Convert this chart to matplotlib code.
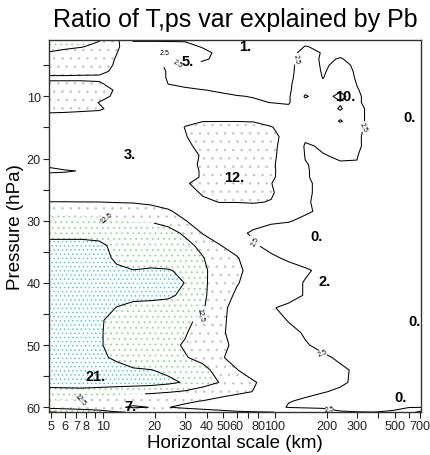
import numpy as np
import matplotlib
matplotlib.use('Agg')
import matplotlib.pyplot as plt
from matplotlib.ticker import FixedLocator, FixedFormatter, NullFormatter

plt.rcParams['font.family'] = ['Liberation Sans', 'DejaVu Sans']
plt.rcParams['hatch.linewidth'] = 0.5

# horizontal scale (km) of grid columns
scale_km = [4.8, 6, 7.5, 9.5, 12, 15, 19, 24, 30, 38, 48, 60, 75, 95, 120,
            150, 190, 240, 300, 380, 480, 600, 711]
# pressure (hPa) of grid rows
pressure_hpa = [1, 2, 3, 4, 5, 6, 7, 8, 9, 10, 11, 12, 13, 14, 15, 16.5, 18,
                19.5, 21, 22, 23, 24, 25.5, 27, 28.5, 30, 32, 34, 36, 38, 40,
                42, 44, 46, 48, 50, 52, 54, 56, 57.5, 59, 60, 60.8]
# ratio of T,ps variance explained by Pb (%)
ratio = [
    [15, 14, 13.5, 12.7, 8.3, 2.2, 2.2, 2.2, 2.2, 1.5, 1.0, 1.0, 1.0, 1.0, 1.2, 1.5, 1.2, 1.0, 0.6, 0.5, 0.5, 0.5, 0.5],
    [13.8, 13.3, 12.7, 11.5, 8.2, 4.0, 4.0, 3.8, 3.5, 2.2, 1.5, 1.2, 1.0, 1.0, 1.2, 2.6, 2.0, 1.5, 1.0, 0.5, 0.5, 0.5, 0.5],
    [12.3, 11.5, 11.0, 10.5, 7.6, 4.5, 3.5, 2.2, 4.5, 3.5, 1.5, 1.2, 1.0, 1.0, 1.5, 3.5, 2.3, 1.8, 0.8, 0.5, 0.5, 0.5, 0.5],
    [11.0, 10.5, 10.0, 9.5, 7.2, 5.0, 4.0, 3.5, 5.0, 3.0, 1.5, 1.2, 1.0, 1.0, 1.5, 4.0, 2.0, 2.7, 1.5, 0.6, 0.5, 0.5, 0.5],
    [10.5, 10.0, 9.5, 9.0, 7.0, 5.0, 3.5, 2.0, 1.8, 1.5, 1.5, 1.2, 1.0, 1.0, 1.5, 4.5, 2.0, 3.5, 1.8, 0.6, 0.5, 0.5, 0.5],
    [8.5, 8.5, 8.3, 8.2, 6.8, 5.5, 4.0, 2.2, 1.8, 1.6, 1.5, 1.3, 1.2, 1.2, 1.6, 4.5, 2.2, 4.0, 2.0, 0.6, 0.5, 0.5, 0.5],
    [7.0, 7.0, 7.0, 7.0, 6.3, 5.5, 4.0, 2.2, 1.8, 1.6, 1.5, 1.3, 1.2, 1.2, 1.6, 5.0, 2.4, 4.5, 2.1, 0.6, 0.5, 0.5, 0.5],
    [8.0, 8.0, 8.0, 7.8, 6.5, 5.5, 4.5, 2.45, 2.0, 1.8, 1.7, 1.5, 1.4, 1.4, 1.8, 5.5, 3.0, 5.0, 2.4, 0.7, 0.5, 0.5, 0.5],
    [8.5, 8.5, 8.5, 8.5, 7.2, 5.5, 4.5, 3.5, 2.9, 2.55, 2.3, 1.9, 1.6, 1.5, 1.9, 6.0, 4.5, 6.5, 2.7, 0.8, 0.5, 0.5, 0.5],
    [9.0, 9.0, 9.0, 8.5, 6.8, 5.5, 5.0, 4.0, 3.5, 3.0, 2.8, 2.6, 2.4, 2.0, 2.0, 8.0, 5.0, 9.5, 3.0, 0.8, 0.5, 0.5, 0.5],
    [9.0, 9.0, 8.8, 7.4, 6.5, 5.5, 5.0, 4.5, 4.0, 3.5, 3.2, 3.0, 2.8, 2.45, 2.2, 6.0, 5.5, 7.0, 3.0, 0.8, 0.5, 0.5, 0.5],
    [8.5, 8.5, 8.3, 7.9, 6.3, 5.3, 5.0, 5.5, 5.5, 5.5, 5.5, 5.5, 5.0, 4.0, 3.2, 5.0, 5.0, 8.0, 3.5, 1.0, 0.5, 0.5, 0.5],
    [7.0, 6.8, 6.5, 6.5, 6.0, 5.0, 5.0, 6.0, 6.8, 7.0, 7.0, 7.0, 6.5, 5.0, 4.0, 4.0, 4.5, 6.0, 3.5, 1.0, 0.5, 0.5, 0.5],
    [5.5, 5.0, 4.5, 4.5, 4.5, 4.5, 5.0, 6.0, 7.0, 7.4, 7.4, 7.4, 7.3, 6.0, 4.5, 3.8, 4.0, 8.0, 3.5, 1.0, 0.5, 0.5, 0.5],
    [4.5, 4.2, 4.0, 4.0, 4.0, 4.0, 4.5, 6.0, 7.6, 9.0, 9.5, 9.5, 9.0, 7.8, 5.0, 3.5, 3.5, 5.0, 3.2, 1.0, 0.5, 0.5, 0.5],
    [3.5, 3.5, 3.5, 3.3, 3.3, 3.5, 4.0, 5.5, 7.2, 10.0, 11.0, 11.0, 10.5, 9.0, 5.5, 3.0, 3.0, 4.0, 3.0, 0.8, 0.5, 0.5, 0.5],
    [3.2, 3.1, 3.1, 3.0, 3.0, 3.1, 3.5, 5.0, 6.5, 9.0, 11.5, 12.0, 11.0, 8.5, 5.5, 2.2, 2.8, 3.5, 3.0, 0.8, 0.5, 0.5, 0.5],
    [3.2, 3.0, 3.0, 3.0, 3.0, 3.0, 3.5, 5.0, 6.5, 7.8, 11.5, 12.0, 11.5, 8.5, 5.0, 2.4, 2.4, 2.8, 2.6, 0.8, 0.5, 0.5, 0.5],
    [7.0, 5.0, 4.0, 3.5, 3.2, 3.2, 3.7, 5.0, 6.5, 8.0, 11.0, 12.0, 11.5, 8.2, 5.0, 2.6, 2.0, 2.3, 2.4, 0.8, 0.5, 0.5, 0.5],
    [8.2, 8.0, 7.2, 4.5, 3.5, 3.3, 3.8, 5.0, 6.5, 7.8, 10.5, 11.5, 11.0, 8.3, 5.0, 2.7, 1.8, 1.5, 1.3, 0.8, 0.5, 0.5, 0.5],
    [6.0, 5.5, 4.5, 3.8, 3.4, 3.3, 3.8, 5.0, 6.5, 7.8, 10.0, 11.0, 10.5, 8.2, 5.0, 2.7, 1.8, 1.3, 1.0, 0.7, 0.5, 0.5, 0.5],
    [3.8, 3.6, 3.5, 3.4, 3.4, 3.5, 4.0, 5.2, 7.2, 8.5, 10.0, 10.5, 10.0, 7.6, 5.0, 2.8, 2.0, 1.3, 0.9, 0.6, 0.5, 0.5, 0.5],
    [4.5, 4.3, 4.2, 4.2, 4.3, 4.5, 5.0, 5.8, 6.5, 7.8, 9.0, 9.0, 8.8, 8.0, 5.0, 2.8, 2.0, 1.3, 0.8, 0.6, 0.5, 0.5, 0.5],
    [7.6, 7.6, 7.55, 7.52, 7.3, 7.2, 6.8, 6.5, 6.5, 7.0, 7.6, 7.6, 7.8, 7.3, 4.5, 2.7, 2.0, 1.3, 0.8, 0.6, 0.5, 0.5, 0.5],
    [11.8, 11.8, 11.7, 11.6, 10.8, 10.0, 9.0, 7.8, 6.5, 5.8, 5.5, 5.5, 5.5, 5.0, 3.8, 2.7, 2.2, 1.5, 0.8, 0.6, 0.5, 0.5, 0.5],
    [13.2, 13.2, 13.2, 13.2, 12.8, 12.2, 12.2, 11.5, 7.6, 6.0, 5.0, 4.0, 3.0, 2.7, 2.6, 2.2, 1.5, 1.0, 0.7, 0.5, 0.5, 0.5, 0.5],
    [16.5, 16.5, 16.5, 16.3, 15.5, 15.0, 14.5, 13.5, 12.0, 7.2, 6.0, 2.8, 2.3, 2.0, 1.8, 1.5, 1.2, 1.0, 0.7, 0.5, 0.5, 0.5, 0.5],
    [18.5, 18.5, 18.5, 18.2, 16.5, 15.5, 15.0, 14.5, 13.5, 11.5, 7.6, 6.0, 2.7, 2.0, 1.8, 1.4, 1.1, 0.9, 0.7, 0.5, 0.5, 0.5, 0.5],
    [20.0, 20.5, 20.5, 19.5, 16.5, 15.5, 15.5, 15.0, 14.5, 12.7, 10.0, 7.8, 5.0, 2.8, 2.2, 1.8, 1.5, 1.2, 1.0, 0.8, 0.5, 0.5, 0.5],
    [21.0, 21.0, 21.0, 20.5, 18.5, 17.6, 18.0, 17.8, 16.5, 13.2, 10.5, 8.2, 6.2, 3.8, 3.2, 2.7, 2.1, 1.8, 1.4, 1.0, 0.7, 0.5, 0.5],
    [21.0, 21.5, 21.5, 21.0, 20.0, 19.5, 19.5, 19.0, 17.4, 13.0, 11.0, 7.8, 5.5, 3.5, 3.0, 2.4, 2.1, 1.8, 1.5, 1.2, 0.8, 0.5, 0.5],
    [21.0, 21.5, 21.5, 21.0, 20.0, 19.0, 19.0, 18.5, 16.0, 13.3, 9.5, 6.8, 5.5, 3.8, 3.0, 2.4, 2.0, 1.6, 1.3, 1.0, 0.7, 0.5, 0.5],
    [21.0, 21.0, 20.5, 20.0, 17.3, 16.0, 15.5, 15.0, 14.0, 13.0, 8.2, 6.5, 4.5, 2.6, 2.2, 1.8, 1.5, 1.2, 1.0, 0.8, 0.6, 0.5, 0.5],
    [20.5, 20.5, 20.0, 18.0, 16.0, 15.0, 14.5, 14.0, 13.3, 11.5, 8.3, 6.0, 4.0, 3.2, 2.4, 1.8, 1.5, 1.2, 1.0, 0.8, 0.6, 0.5, 0.5],
    [20.5, 20.5, 20.0, 18.0, 15.5, 14.5, 14.0, 13.5, 12.8, 10.5, 8.0, 6.3, 4.5, 3.5, 3.0, 2.3, 1.8, 1.4, 1.1, 0.9, 0.6, 0.5, 0.5],
    [20.5, 20.5, 20.0, 18.0, 15.5, 14.5, 13.8, 13.2, 12.2, 11.0, 8.5, 6.5, 5.0, 4.0, 3.2, 2.65, 2.0, 1.5, 1.2, 0.9, 0.6, 0.5, 0.5],
    [20.5, 20.5, 20.0, 18.5, 16.5, 15.0, 14.0, 13.5, 12.7, 11.5, 7.8, 6.5, 5.0, 4.2, 3.5, 3.0, 2.8, 2.2, 1.8, 1.2, 0.8, 0.6, 0.5],
    [20.5, 21.0, 21.0, 20.5, 19.5, 18.0, 17.6, 16.5, 15.0, 13.5, 11.0, 7.6, 6.0, 5.0, 4.0, 3.5, 3.0, 2.8, 2.2, 1.5, 1.0, 0.8, 0.6],
    [20.5, 21.0, 21.5, 21.0, 20.5, 20.0, 19.5, 18.5, 17.0, 14.5, 12.3, 10.0, 7.8, 6.0, 4.0, 3.5, 3.0, 2.8, 2.1, 1.5, 1.0, 0.8, 0.6],
    [15.0, 15.0, 15.0, 14.5, 14.0, 13.8, 13.5, 12.8, 12.0, 10.5, 9.0, 8.3, 7.4, 5.0, 3.8, 3.0, 2.6, 2.2, 1.8, 1.3, 0.8, 0.8, 0.6],
    [12.4, 12.2, 11.8, 11.0, 10.0, 9.0, 8.5, 8.2, 7.9, 7.4, 6.5, 5.5, 4.0, 3.2, 2.6, 2.2, 1.8, 1.6, 1.3, 1.0, 0.6, 0.8, 0.8],
    [11.0, 10.5, 10.0, 9.0, 8.0, 7.0, 7.6, 7.55, 7.0, 6.5, 6.0, 5.5, 5.0, 3.5, 2.3, 2.0, 1.8, 1.6, 1.5, 1.3, 1.5, 2.3, 2.45],
    [18.0, 17.0, 16.0, 15.0, 13.0, 12.0, 11.0, 10.0, 9.5, 9.0, 8.5, 8.0, 7.8, 7.6, 7.0, 6.0, 5.0, 2.8, 2.6, 2.55, 3.0, 6.0, 9.0],
]

plain_levels = [7.5, 17.5]
label_level_a = [2.5]
label_level_b = [12.5]
band_lo = [7.5, 12.5, 17.5]
band_hi = [12.5, 17.5, 40.0]

# local extremum labels
ext_text = ['1.', '5.', '10.', '0.', '3.', '12.', '0.', '2.', '0.', '21.', '7.', '0.']
ext_km = [67, 31, 255, 609, 14.4, 58, 175, 195, 650, 9.0, 14.5, 537]
ext_hpa = [1.9, 4.3, 10, 13.3, 19.3, 23, 32.5, 39.7, 46.1, 55, 59.8, 58.3]

xticks = [5, 6, 7, 8, 10, 20, 30, 40, 50, 60, 80, 100, 200, 300, 500, 700]
xminor = [9, 70, 400, 600]
yticks = [10, 20, 30, 40, 50, 60]
yminor = [5, 15, 25, 35, 45, 55]

fig = plt.figure(figsize=(4.30, 4.56), dpi=100)
ax = fig.add_axes([0.114, 0.0943, 0.866, 0.8164])
X, Y = np.meshgrid(scale_km, pressure_hpa)
Z = np.array(ratio)

band_color = ['#c0c0c0', '#86d486', '#3ccad6']
band_hatch = ['..', '...', '....']
for lo, hi, col, h in zip(band_lo, band_hi, band_color, band_hatch):
    with plt.rc_context({'hatch.color': col}):
        ax.contourf(X, Y, Z, levels=[lo, hi], colors='none', hatches=[h])

lw = 0.75
ax.contour(X, Y, Z, levels=plain_levels, colors='black', linewidths=lw)
cs_a = ax.contour(X, Y, Z, levels=label_level_a, colors='black', linewidths=lw)
cs_b = ax.contour(X, Y, Z, levels=label_level_b, colors='black', linewidths=lw)
lab_a = [(23, 3.0), (27, 4.8), (134, 4), (330, 15), (74, 33.4), (190, 51.3), (208, 60.5)]
lab_b = [(8.5, 29.6), (7.6, 58.7), (37, 45)]
ax.clabel(cs_a, manual=lab_a, fmt='%g', fontsize=5, inline=True, inline_spacing=1)
ax.clabel(cs_b, manual=lab_b, fmt='%g', fontsize=5, inline=True, inline_spacing=1)

for t, xk, yp in zip(ext_text, ext_km, ext_hpa):
    ax.text(xk, yp, t, ha='center', va='center', fontsize=10.5, fontweight='bold',
            clip_on=True)

ax.set_xscale('log')
ax.set_xlim(4.85, 711)
ax.set_ylim(60.76, 0.9)
ax.xaxis.set_major_locator(FixedLocator(xticks))
ax.xaxis.set_major_formatter(FixedFormatter([str(v) for v in xticks]))
ax.xaxis.set_minor_locator(FixedLocator(xminor))
ax.xaxis.set_minor_formatter(NullFormatter())
ax.set_yticks(yticks)
ax.set_yticks(yminor, minor=True)
ax.tick_params(which='both', direction='out', length=4, width=0.8, labelsize=9.1, pad=2,
               colors='#222222')
for s in ax.spines.values():
    s.set_linewidth(1.0)
    s.set_color('#333333')

ax.set_title('Ratio of T,ps var explained by Pb', fontsize=18, pad=10)
ax.set_xlabel('Horizontal scale (km)', fontsize=13.5, labelpad=1)
ax.set_ylabel('Pressure (hPa)', fontsize=13.5, labelpad=2)

fig.savefig('out.png', dpi=100)
